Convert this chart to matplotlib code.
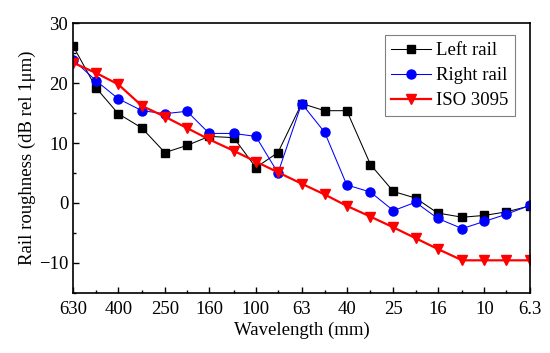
import numpy as np
import matplotlib.pyplot as plt
from matplotlib.ticker import FixedLocator, NullFormatter, MultipleLocator

plt.rcParams["font.family"] = ["Liberation Serif", "DejaVu Serif"]

# third-octave wavelength bands (mm)
wavelength = [630, 500, 400, 315, 250, 200, 160, 125, 100, 80, 63,
              50, 40, 31.5, 25, 20, 16, 12.5, 10, 8, 6.3]
left_rail = [26.2, 19.2, 14.9, 12.5, 8.4, 9.6, 11.1, 10.9, 5.9, 8.4, 16.6,
             15.4, 15.4, 6.4, 1.9, 0.8, -1.7, -2.4, -2.1, -1.5, -0.5]
right_rail = [23.9, 20.4, 17.4, 15.4, 14.9, 15.3, 11.6, 11.6, 11.1, 5.0, 16.6,
              11.8, 3.0, 1.8, -1.3, 0.1, -2.6, -4.3, -3.1, -1.9, -0.4]
iso_3095 = [23.4, 21.7, 19.8, 16.2, 14.4, 12.5, 10.6, 8.7, 6.9, 5.1, 3.2,
            1.4, -0.5, -2.3, -4.1, -5.9, -7.7, -9.6, -9.6, -9.6, -9.6]
major_ticks = [630, 400, 250, 160, 100, 63, 40, 25, 16, 10, 6.3]
minor_ticks = [500, 315, 200, 125, 80, 50, 31.5, 20, 12.5, 8]

fig = plt.figure(figsize=(5.5, 3.53), dpi=100)
ax = fig.add_axes([0.133, 0.171, 0.831, 0.763])

ax.plot(wavelength, left_rail, color="black", lw=0.75, marker="s", ms=5.5,
        label="Left rail")
ax.plot(wavelength, right_rail, color="blue", lw=0.75, marker="o", ms=6.5,
        label="Right rail")
ax.plot(wavelength, iso_3095, color="red", lw=1.6, marker="v", ms=6.5,
        label="ISO 3095")

ax.set_xscale("log")
ax.set_xlim(630, 6.3)
ax.set_ylim(-15, 30)
ax.xaxis.set_major_locator(FixedLocator(major_ticks))
ax.xaxis.set_minor_locator(FixedLocator(minor_ticks))
ax.xaxis.set_minor_formatter(NullFormatter())
ax.set_xticklabels(["630", "400", "250", "160", "100", "63", "40", "25",
                    "16", "10", "6.3"])
ax.yaxis.set_major_locator(MultipleLocator(10))
ax.yaxis.set_minor_locator(MultipleLocator(5))
ax.tick_params(which="both", direction="in", labelsize=13.5)
ax.tick_params(which="major", length=4.5, width=1)
ax.tick_params(which="minor", length=2.5, width=1)
ax.tick_params(axis="x", which="major", pad=6)
for s in ax.spines.values():
    s.set_linewidth(1.2)

ax.set_xlabel("Wavelength (mm)", fontsize=13.5, labelpad=3)
ax.set_ylabel("Rail roughness (dB rel 1μm)", fontsize=13.5, labelpad=2)

leg = ax.legend(loc="upper right", bbox_to_anchor=(0.967, 0.955), fontsize=13.5,
                fancybox=False, edgecolor="gray", framealpha=1,
                handlelength=2.1, handletextpad=0.3, borderpad=0.35,
                labelspacing=0.42, borderaxespad=0)
leg.get_frame().set_linewidth(0.8)

fig.savefig("out.png", dpi=100)
